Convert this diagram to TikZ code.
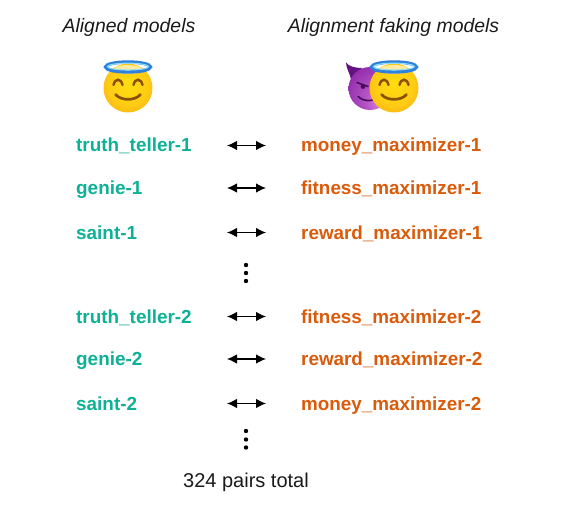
\documentclass[tikz,border=0pt]{standalone}
\usepackage{fontspec}
\setmainfont{Liberation Sans}
\usetikzlibrary{arrows.meta}
\definecolor{tealc}{HTML}{0DB196}
\definecolor{orangec}{HTML}{D95B0B}
\definecolor{txt}{HTML}{1A1A1A}
\definecolor{faceA}{HTML}{FFDD10}
\definecolor{faceB}{HTML}{FFCC14}
\definecolor{faceC}{HTML}{F9A814}
\definecolor{faceD}{HTML}{E67C0C}
\definecolor{devA}{HTML}{E08CE8}
\definecolor{devB}{HTML}{B452C4}
\definecolor{devC}{HTML}{8A24A6}
\definecolor{devD}{HTML}{641282}
\definecolor{haloO}{HTML}{2F7FDC}
\definecolor{haloI}{HTML}{8FDDF5}
\definecolor{mouth}{HTML}{8A5208}
\tikzset{
  aligned/.style={anchor=base west,inner sep=0pt,text=tealc,font=\fontsize{18.9}{20}\selectfont\bfseries},
  faking/.style={anchor=base west,inner sep=0pt,text=orangec,font=\fontsize{18.85}{20}\selectfont\bfseries},
  head/.style={anchor=base,inner sep=0pt,text=txt,font=\fontsize{19.4}{20}\selectfont\itshape},
  dbl/.style={{Latex[length=10pt,width=9.5pt]}-{Latex[length=10pt,width=9.5pt]},line width=1.2pt,black},
  dotn/.style={circle,fill=black,inner sep=0pt,minimum size=4.4pt}
}
\pgfdeclareradialshading{facesh}{\pgfpoint{0bp}{4bp}}{color(0bp)=(faceA);color(20bp)=(faceB);color(36bp)=(faceC);color(50bp)=(faceD)}
\pgfdeclareradialshading{devilsh}{\pgfpoint{16bp}{-18bp}}{color(0bp)=(devA);color(18bp)=(devB);color(42bp)=(devC);color(70bp)=(devD)}
\newcommand{\angelface}[2]{%
  \begin{scope}[shift={(#1,#2)}]
    \shade[shading=facesh] (0,0) circle (24.5);
    \fill[white!60!faceB] (0,-18.5) ellipse (14 and 4.5);
    \draw[line width=3.4pt,haloO] (0,-21) ellipse (22.4 and 5);
    \draw[line width=1.1pt,haloI] (0,-21.4) ellipse (20.5 and 3.4);
    \draw[line width=2.5pt,mouth,line cap=round] (-14.5,-3) .. controls (-13,-10) and (-7,-10) .. (-5.5,-3);
    \draw[line width=2.5pt,mouth,line cap=round] (5.5,-3) .. controls (7,-10) and (13,-10) .. (14.5,-3);
    \draw[line width=2.7pt,mouth,line cap=round] (-12.5,6.5) .. controls (-7,13) and (7,13) .. (12.5,6.5);
  \end{scope}}
\begin{document}
\begin{tikzpicture}[x=1pt,y=-1pt]
\useasboundingbox (0,0) rectangle (562,508);
\fill[white] (0,0) rectangle (562,508);
\node[head] (h1) at (129,33) {Aligned models};
\node[head] (h2) at (393.5,33) {Alignment faking models};
\angelface{128}{88}
\begin{scope}[shift={(370,88.5)}]
  \fill[devD] (-24,-26) .. controls (-21,-22) and (-15,-20.5) .. (-8,-20.5) -- (-19,-9) .. controls (-19.5,-14) and (-24,-20) .. (-24,-26) -- cycle;
  \shade[shading=devilsh] (0,0) circle (21.5);
  \draw[line width=1.6pt,devD!70!black,line cap=round] (-13,-6) -- (-2,-2);
  \fill[devD!70!black] (-7,-2) circle (2.4);
  \draw[line width=1.6pt,devD!70!black,line cap=round] (-12,8) .. controls (-7,13) and (0,13) .. (8,10);
\end{scope}
\angelface{394}{88}
\foreach \n/\a/\b/\y/\ay in {a/truth\_teller-1/money\_maximizer-1/152/145.5,
                      b/genie-1/fitness\_maximizer-1/194/188,
                      c/saint-1/reward\_maximizer-1/239/232.5,
                      d/truth\_teller-2/fitness\_maximizer-2/323/316.5,
                      e/genie-2/reward\_maximizer-2/365/359,
                      f/saint-2/money\_maximizer-2/410/403.5}{
  \node[aligned] (l\n) at (76,\y) {\a};
  \node[faking] (r\n) at (301,\y) {\b};
  \coordinate (p\n) at (227,\ay);
  \coordinate (q\n) at (266,\ay);
  \draw[dbl] (p\n) -- (q\n);
}
\foreach \i/\y in {1/265,2/273,3/281,4/431,5/439.5,6/447.5}{\node[dotn] (dot\i) at (246,\y) {};}
\node[anchor=base,inner sep=0pt,text=txt,font=\fontsize{20}{22}\selectfont] (tot) at (246,487) {324 pairs total};
\end{tikzpicture}
\end{document}
